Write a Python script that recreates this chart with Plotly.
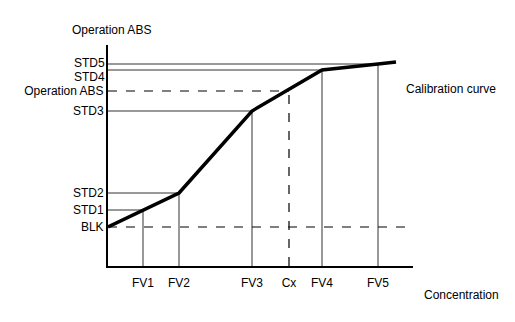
import plotly.graph_objects as go

# Calibration standards (concentration units, absorbance units)
std_names = ["FV1", "FV2", "FV3", "FV4", "FV5"]
std_conc = [35, 71, 144, 214, 270]
std_abs_names = ["STD1", "STD2", "STD3", "STD4", "STD5"]
std_abs = [56, 73, 155, 196, 202]

blank_abs = 39
sample_conc = 181
sample_abs = 175

curve_x = [0, 35, 71, 144, 214, 270, 288]
curve_y = [39, 56, 73, 155, 196, 202, 204]

x_max = 305
y_max = 221

line_color = "#333333"
font = dict(family="Liberation Sans, Arial, sans-serif", size=12, color="black")

fig = go.Figure()

# Guide lines from axes to each standard point
for cx, ay in zip(std_conc, std_abs):
    fig.add_trace(go.Scatter(x=[0, cx], y=[ay, ay], mode="lines",
                             line=dict(color=line_color, width=1), hoverinfo="skip"))
    fig.add_trace(go.Scatter(x=[cx, cx], y=[0, ay], mode="lines",
                             line=dict(color=line_color, width=1), hoverinfo="skip"))

# Blank dashed line
fig.add_trace(go.Scatter(x=[0, x_max], y=[blank_abs, blank_abs], mode="lines",
                         line=dict(color="black", width=1.2, dash="dash"), hoverinfo="skip"))
# Sample dashed lines
fig.add_trace(go.Scatter(x=[0, sample_conc], y=[sample_abs, sample_abs], mode="lines",
                         line=dict(color="black", width=1.2, dash="dash"), hoverinfo="skip"))
fig.add_trace(go.Scatter(x=[sample_conc, sample_conc], y=[0, sample_abs], mode="lines",
                         line=dict(color="black", width=1.2, dash="dash"), hoverinfo="skip"))

# Calibration curve
fig.add_trace(go.Scatter(x=curve_x, y=curve_y, mode="lines",
                         line=dict(color="black", width=3.5), hoverinfo="skip"))

x_tickvals = std_conc[:3] + [sample_conc] + std_conc[3:]
x_ticktext = std_names[:3] + ["Cx"] + std_names[3:]
# STD4 and STD5 are drawn as separate labels, nudged apart (as in the reference)
y_tickvals = [blank_abs] + std_abs[:3] + [sample_abs]
y_ticktext = ["BLK"] + std_abs_names[:3] + ["Operation ABS"]

fig.update_layout(
    width=515, height=322,
    margin=dict(l=108, r=102, t=45, b=56),
    plot_bgcolor="white", paper_bgcolor="white",
    showlegend=False,
    font=font,
    xaxis=dict(range=[0, x_max], showgrid=False, zeroline=False,
               showline=True, linecolor="black", linewidth=2,
               tickmode="array", tickvals=x_tickvals, ticktext=x_ticktext,
               ticks="outside", ticklen=5, tickcolor="rgba(0,0,0,0)",
               tickfont=font),
    yaxis=dict(range=[0, y_max], showgrid=False, zeroline=False,
               showline=True, linecolor="black", linewidth=2,
               tickmode="array", tickvals=y_tickvals, ticktext=y_ticktext,
               ticks="", tickfont=font),
    annotations=[
        dict(text=std_abs_names[4], xref="paper", yref="y", x=0, y=std_abs[4],
             xanchor="right", yanchor="middle", xshift=-1, yshift=1,
             showarrow=False, font=font),
        dict(text=std_abs_names[3], xref="paper", yref="y", x=0, y=std_abs[3],
             xanchor="right", yanchor="middle", xshift=-1, yshift=-7,
             showarrow=False, font=font),
        dict(text="Operation ABS", xref="paper", yref="paper", x=-0.125, y=1.0,
             xanchor="left", yanchor="bottom", yshift=6, showarrow=False, font=font),
        dict(text="Calibration curve", xref="paper", yref="paper", x=0.97, y=0.80,
             xanchor="left", yanchor="middle", showarrow=False, font=font),
        dict(text="Concentration", xref="paper", yref="paper", x=1.03, y=0,
             xanchor="left", yanchor="top", yshift=-20, showarrow=False, font=font),
    ],
)

fig.write_html("out.html")
